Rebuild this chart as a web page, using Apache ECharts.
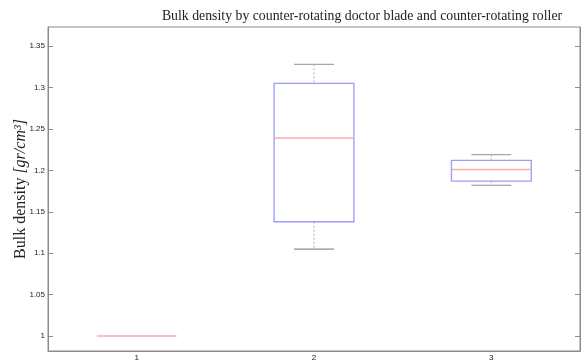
<!DOCTYPE html>
<html>
<head>
<meta charset="utf-8">
<script src="https://cdn.jsdelivr.net/npm/echarts@6/dist/echarts.min.js"></script>
<style>html,body{margin:0;padding:0;background:#fff}#c{width:582px;height:361px}</style>
</head>
<body>
<div id="c"></div>
<script>
var categories = ['1', '2', '3'];
var lowerWhisker = [1.0, 1.105, 1.182];
var q1Values = [1.0, 1.138, 1.187];
var medianValues = [1.0, 1.239, 1.201];
var q3Values = [1.0, 1.305, 1.212];
var upperWhisker = [1.0, 1.328, 1.219];
var yTicks = [1, 1.05, 1.1, 1.15, 1.2, 1.25, 1.3, 1.35];

var data = categories.map(function (c, i) {
  return [i, lowerWhisker[i], q1Values[i], medianValues[i], q3Values[i], upperWhisker[i]];
});

function renderBox(params, api) {
  var x = api.value(0);
  var lo = api.coord([x, api.value(1)]);
  var q1 = api.coord([x, api.value(2)]);
  var md = api.coord([x, api.value(3)]);
  var q3 = api.coord([x, api.value(4)]);
  var hi = api.coord([x, api.value(5)]);
  var band = api.size([1, 0])[0];
  var bw = band * 0.45;
  var cw = band * 0.225;
  var cx = lo[0];
  var children = [];
  var degenerate = Math.abs(q1[1] - q3[1]) < 0.5 && Math.abs(lo[1] - hi[1]) < 0.5;
  if (!degenerate) {
    children.push({type: 'line', shape: {x1: cx, y1: hi[1], x2: cx, y2: q3[1]},
      style: {stroke: '#b0b0b0', lineWidth: 1, lineDash: [2, 2]}});
    children.push({type: 'line', shape: {x1: cx, y1: q1[1], x2: cx, y2: lo[1]},
      style: {stroke: '#b0b0b0', lineWidth: 1, lineDash: [2, 2]}});
    children.push({type: 'line', shape: {x1: cx - cw / 2, y1: hi[1], x2: cx + cw / 2, y2: hi[1]},
      style: {stroke: '#a8a8a8', lineWidth: 1.2}});
    children.push({type: 'line', shape: {x1: cx - cw / 2, y1: lo[1], x2: cx + cw / 2, y2: lo[1]},
      style: {stroke: '#8c8c8c', lineWidth: 1.2}});
    children.push({type: 'rect', shape: {x: cx - bw / 2, y: q3[1], width: bw, height: q1[1] - q3[1]},
      style: {fill: 'none', stroke: '#9a9aff', lineWidth: 1.3}});
  }
  children.push({type: 'line', shape: {x1: cx - bw / 2, y1: md[1], x2: cx + bw / 2, y2: md[1]},
    style: {stroke: '#ffa8a8', lineWidth: 1.5}});
  return {type: 'group', children: children};
}

var chart = echarts.init(document.getElementById('c'), null, {renderer: 'canvas'});
chart.setOption({
  animation: false,
  backgroundColor: '#ffffff',
  title: {
    text: 'Bulk density by counter-rotating doctor blade and counter-rotating roller',
    left: 357, top: 4, textAlign: 'center',
    textStyle: {fontFamily: 'Liberation Serif', fontWeight: 'normal', fontSize: 13.8, color: '#222'}
  },
  grid: {left: 48, right: 2, top: 27, bottom: 10, show: true, borderColor: '#8a8a8a', borderWidth: 1,
    outerBoundsMode: 'none', containLabel: false},
  xAxis: {
    type: 'category', data: categories, boundaryGap: true,
    axisLine: {show: true, lineStyle: {color: '#8a8a8a'}},
    axisTick: {show: false},
    axisLabel: {fontFamily: 'Liberation Sans', fontSize: 8, color: '#222', margin: 3}
  },
  yAxis: [{
    type: 'value', min: 0.982, max: 1.373,
    name: '{n|Bulk density }{i|[gr/cm³]}', nameLocation: 'middle', nameGap: 19, nameRotate: 90,
    nameMoveOverlap: false,
    nameTextStyle: {rich: {
      n: {fontFamily: 'Liberation Serif', fontSize: 16, color: '#222'},
      i: {fontFamily: 'Liberation Serif', fontStyle: 'italic', fontSize: 16, color: '#222'}
    }},
    splitLine: {show: false},
    axisLine: {show: true, lineStyle: {color: '#8a8a8a'}},
    axisTick: {show: true, inside: true, length: 5, customValues: yTicks, lineStyle: {color: '#8a8a8a'}},
    axisLabel: {customValues: yTicks, fontFamily: 'Liberation Sans', fontSize: 8, color: '#222', margin: 3,
      formatter: function (v) { return String(Math.round(v * 100) / 100); }}
  }, {
    type: 'value', min: 0.982, max: 1.373, position: 'right',
    splitLine: {show: false},
    axisLine: {show: true, lineStyle: {color: '#8a8a8a'}},
    axisTick: {show: true, inside: true, length: 5, customValues: yTicks, lineStyle: {color: '#8a8a8a'}},
    axisLabel: {show: false}
  }],
  series: [{
    type: 'custom',
    renderItem: renderBox,
    encode: {x: 0, y: [1, 2, 3, 4, 5]},
    data: data,
    clip: false
  }]
});
</script>
</body>
</html>
